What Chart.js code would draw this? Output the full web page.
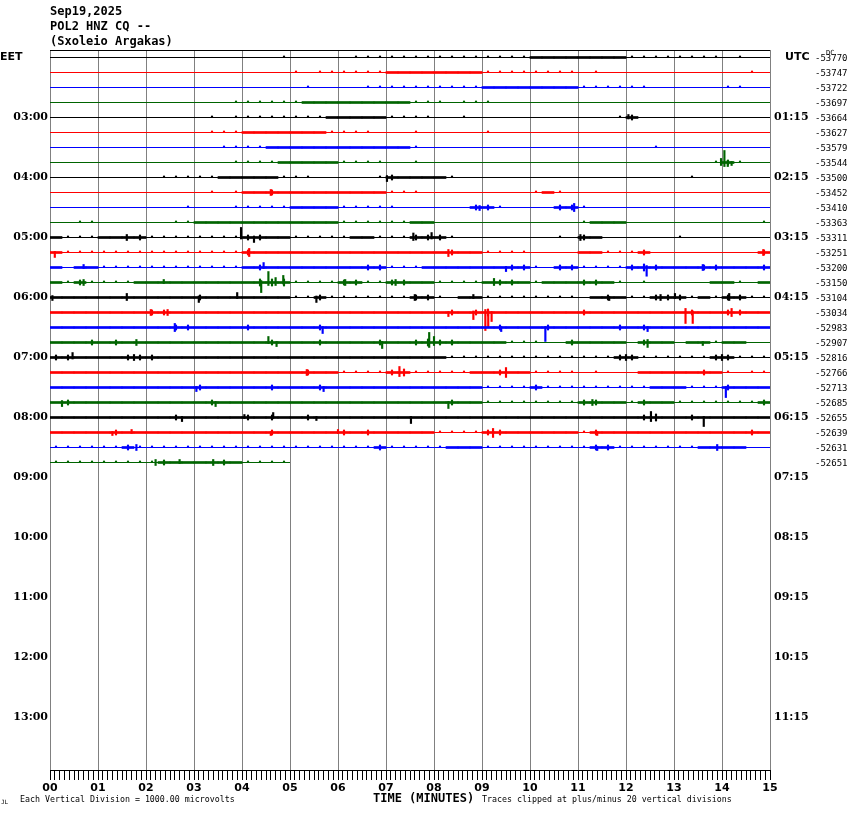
<!DOCTYPE html>
<html>
<head>
<meta charset="utf-8">
<script src="https://cdn.jsdelivr.net/npm/chart.js@4.4.1/dist/chart.umd.min.js"></script>
<style>
  html, body { margin: 0; padding: 0; background: #fff; }
  canvas { display: block; }
</style>
</head>
<body>
<canvas id="chart" width="850" height="814" style="width:850px;height:814px"></canvas>
<script>
// station header
const header = ['Sep19,2025', 'POL2 HNZ CQ --', '(Sxoleio Argakas)'];

// hour labels (left = local EET, right = UTC)
const eetHours = ['03:00', '04:00', '05:00', '06:00', '07:00', '08:00', '09:00', '10:00', '11:00', '12:00', '13:00'];
const utcHours = ['01:15', '02:15', '03:15', '04:15', '05:15', '06:15', '07:15', '08:15', '09:15', '10:15', '11:15'];

// minute tick labels
const minuteLabels = ['00', '01', '02', '03', '04', '05', '06', '07', '08', '09', '10', '11', '12', '13', '14', '15'];

// DC offset printed at the end of each trace
const dcOffsets = [-53770, -53747, -53722, -53697, -53664, -53627, -53579, -53544, -53500, -53452,
  -53410, -53363, -53311, -53251, -53200, -53150, -53104, -53034, -52983, -52907,
  -52816, -52766, -52713, -52685, -52655, -52639, -52631, -52651];

// noise envelope of each 15 min trace, one digit per 15 s (4 per minute)
// 0 = quiet, 1 = scattered small ticks, 2 = continuous noise, 3-4 = bursts
const envelope = [
  '0000 0000 0000 0000 0001 0000 0111 1111 1111 1111 2222 2222 1111 1111 0100',
  '0000 0000 0000 0000 0000 1011 1111 2222 2222 1111 1111 0100 0000 0000 0010',
  '0000 0000 0000 0000 0000 0100 0011 1111 1111 2222 2222 1111 1100 0000 1100',
  '0000 0000 0000 0001 1111 1222 2222 2211 1011 1000 0000 0000 0000 0000 0000',
  '0000 0000 0000 0101 1111 1112 2222 1111 0010 0000 0000 0001 3000 0000 0000',
  '0000 0000 0000 0111 2222 2221 1110 0010 0000 1000 0000 0000 0000 0000 0000',
  '0000 0000 0000 0011 1122 2222 2222 2210 0000 0000 0000 0000 0010 0000 0000',
  '0000 0000 0000 0001 1112 2222 1111 0010 0000 0000 0000 0000 0000 0001 3100',
  '0000 0000 0111 1122 2221 1100 0001 3222 2100 0000 0000 0000 0000 0100 0000',
  '0000 0000 0000 0101 2232 2222 2222 1110 0000 0000 1210 0000 0000 0000 0000',
  '0000 0000 0001 0001 1111 2222 1111 1000 0003 3100 0033 1000 0000 0000 0000',
  '0011 0000 0011 2222 2222 2222 1111 1122 0000 0000 0000 1222 0000 0000 0001',
  '2111 2223 1111 1111 3322 1111 1221 1133 3100 0000 0010 3200 0000 1000 0000',
  '2111 1111 1111 1111 3222 2222 2222 2222 2322 1111 0000 2211 1300 0000 0003',
  '2022 1111 1111 1111 2322 2222 2233 1112 2222 2233 1033 1111 3432 2233 2223',
  '2131 1112 2222 2222 2444 1111 3311 3322 1111 2332 1222 3321 0100 0002 2102',
  '2222 2222 2222 3222 2222 1131 1111 1133 1022 1111 1111 0232 1133 3121 3311',
  '2222 2222 3322 2222 2222 2222 2222 2222 2323 4222 2222 3222 2222 2322 3322',
  '2222 2222 2233 2222 3222 2232 2222 2222 2222 2322 2322 2223 2322 2222 2222',
  '2223 2322 2222 2222 2232 2232 2223 2234 3322 2211 1003 2222 0322 0221 2200',
  '3322 2233 3222 2222 2222 2222 2222 2222 2111 1111 1111 1113 3111 1113 3111',
  '2222 2222 2222 2222 2222 2322 1111 3411 1112 2322 1111 0100 0222 2232 1011',
  '2222 2222 2222 3222 2232 2232 2222 2222 2222 1111 3111 1111 1122 2111 3222',
  '2322 2222 2222 2322 2222 2222 2222 2222 2322 1111 1111 3322 1322 1111 1113',
  '2222 2222 2232 2222 3232 2322 2222 2222 2222 2222 2222 2222 2342 2322 2222',
  '2222 2322 2222 2222 2232 2222 3232 2222 1111 3322 2222 1322 2222 2222 2232',
  '1111 1131 1111 1111 1111 1111 1113 1111 1222 1111 1111 1331 1111 1122 2200',
  '1111 1111 1322 2232 1111'
];

// single large excursions: [trace, minute, up (microvolts), down (microvolts)]
const spikes = [
  [4, 12.05, 200, 100],
  [7, 13.98, 270, 200], [7, 14.05, 800, 270], [7, 14.12, 130, 270], [7, 14.2, 70, 200],
  [8, 7.02, 130, 270],
  [9, 4.6, 200, 200],
  [10, 8.95, 130, 200], [10, 10.92, 270, 270],
  [12, 1.6, 200, 200], [12, 3.98, 670, 100], [12, 4.25, 100, 330], [12, 7.57, 300, 200], [12, 7.95, 330, 100], [12, 11.05, 200, 200],
  [13, 0.1, 70, 330], [13, 4.15, 270, 270], [13, 8.3, 200, 270], [13, 14.86, 200, 200],
  [14, 0.7, 200, 70], [14, 4.45, 330, 70], [14, 9.5, 70, 270], [14, 12.43, 130, 580], [14, 13.6, 200, 200],
  [15, 0.7, 200, 200], [15, 2.37, 200, 70], [15, 4.4, 130, 670], [15, 4.55, 730, 200], [15, 4.7, 330, 200], [15, 4.86, 470, 100], [15, 6.15, 200, 200], [15, 7.2, 200, 200], [15, 9.25, 270, 200],
  [16, 0.05, 130, 200], [16, 1.6, 270, 200], [16, 3.1, 100, 330], [16, 3.9, 330, 70], [16, 5.55, 100, 330], [16, 7.6, 200, 200], [16, 8.82, 200, 70], [16, 11.65, 70, 200], [16, 12.72, 200, 200], [16, 13.02, 270, 70], [16, 14.15, 270, 200],
  [17, 2.1, 200, 200], [17, 2.45, 200, 200], [17, 8.3, 70, 270], [17, 8.82, 100, 470], [17, 9.07, 200, 1200], [17, 9.13, 100, 1000], [17, 9.2, 70, 600], [17, 13.24, 270, 730], [17, 13.39, 100, 730], [17, 14.2, 270, 270],
  [18, 2.6, 270, 270], [18, 5.68, 70, 400], [18, 9.4, 70, 270], [18, 10.32, 70, 930], [18, 12.45, 70, 270],
  [19, 1.8, 200, 200], [19, 4.55, 400, 70], [19, 4.72, 70, 270], [19, 6.92, 70, 400], [19, 7.9, 670, 330], [19, 8.0, 400, 200], [19, 12.45, 200, 330], [19, 13.6, 70, 200],
  [20, 0.47, 330, 100], [20, 1.75, 200, 200], [20, 12.0, 200, 200], [20, 14.0, 200, 200],
  [21, 5.35, 200, 200], [21, 7.28, 400, 270], [21, 9.5, 330, 330],
  [22, 3.05, 70, 270], [22, 5.7, 70, 270], [22, 14.08, 70, 670],
  [23, 0.25, 130, 270], [23, 3.45, 70, 270], [23, 8.3, 70, 400], [23, 11.3, 200, 200],
  [24, 2.75, 70, 270], [24, 4.05, 200, 70], [24, 4.65, 330, 70], [24, 5.55, 70, 200], [24, 7.52, 70, 400], [24, 12.52, 400, 270], [24, 13.62, 70, 600],
  [25, 1.3, 70, 200], [25, 1.7, 200, 70], [25, 4.6, 70, 200], [25, 6.0, 200, 70], [25, 9.23, 270, 330], [25, 11.4, 70, 200],
  [26, 1.8, 200, 200], [26, 11.4, 70, 200], [26, 13.9, 200, 200],
  [27, 2.2, 200, 200], [27, 2.7, 200, 70], [27, 3.4, 200, 200]
];

const colors = ['#000000', '#ff0000', '#0000ff', '#006400'];
const BIN = 0.25;          // minutes per envelope digit
const UV_PER_TRACE = 1000; // trace spacing in microvolts
const LEVEL_UV = 67;       // microvolts per envelope level

const uv = v => v / UV_PER_TRACE;

let datasets = [];
envelope.forEach((str, row) => {
  let levels = str.replace(/ /g, '').split('').map(Number);
  let color = colors[row % 4];
  let end = levels.length * BIN;
  let band = [], ticks = [];
  levels.forEach((lv, i) => {
    let x = (i + 0.5) * BIN;
    if (lv >= 2) band.push({ x: x, y: [row - uv(LEVEL_UV), row + uv(LEVEL_UV)] });
    if (lv === 1) ticks.push({ x: x, y: [row - uv(1.5 * LEVEL_UV), row] });
    if (lv >= 3) ticks.push({ x: x, y: [row - uv((lv - 0.5) * LEVEL_UV), row + uv((lv - 0.5) * LEVEL_UV)] });
  });
  datasets.push({
    type: 'line',
    data: [{ x: 0, y: row }, { x: end, y: row }],
    borderColor: color,
    borderWidth: 1,
    pointRadius: 0
  });
  datasets.push({
    type: 'bar', grouped: false, data: band,
    backgroundColor: color, borderWidth: 0, barThickness: 12
  });
  datasets.push({
    type: 'bar', grouped: false, data: ticks,
    backgroundColor: color, borderWidth: 0, barThickness: 1.5
  });
});
datasets.push({
  type: 'bar', grouped: false,
  data: spikes.map(s => ({ x: s[1], y: [s[0] - uv(s[2]), s[0] + uv(s[3])] })),
  backgroundColor: spikes.map(s => colors[s[0] % 4]),
  borderWidth: 0, barThickness: 1.5
});

const isMajor = v => Math.abs(v - Math.round(v)) < 1e-6;

const heliText = {
  id: 'heliText',
  afterDraw(chart) {
    const { ctx, chartArea: a, scales } = chart;
    const y = scales.y;
    ctx.save();
    // top frame line
    ctx.strokeStyle = '#000';
    ctx.lineWidth = 1;
    ctx.beginPath();
    ctx.moveTo(a.left, a.top + 0.5);
    ctx.lineTo(a.right, a.top + 0.5);
    ctx.stroke();

    ctx.fillStyle = '#000';
    ctx.textBaseline = 'middle';
    ctx.textAlign = 'left';
    ctx.font = 'bold 12px "DejaVu Sans Mono"';
    header.forEach((t, i) => ctx.fillText(t, a.left, 12 + 15 * i));

    let top = y.getPixelForValue(0);
    ctx.font = 'bold 11px "DejaVu Sans"';
    ctx.fillText('EET', 0, top);
    ctx.fillText('UTC', 785, top);

    ctx.font = 'bold 11px "DejaVu Serif"';
    eetHours.forEach((t, i) => {
      let py = y.getPixelForValue(4 * (i + 1));
      ctx.textAlign = 'right';
      ctx.fillText(t, a.left - 2, py);
      ctx.textAlign = 'left';
      ctx.fillText(utcHours[i], a.right + 4, py);
    });

    ctx.textAlign = 'left';
    ctx.font = '9px "DejaVu Sans Mono"';
    dcOffsets.forEach((v, i) => ctx.fillText(String(v), 815, y.getPixelForValue(i) + 1));
    ctx.font = '7px "DejaVu Sans Mono"';
    ctx.fillText('DC', 826, 53);

    ctx.font = '8.3px "DejaVu Sans Mono"';
    ctx.fillText('Each Vertical Division = 1000.00 microvolts', 20, 800);
    ctx.fillText('Traces clipped at plus/minus 20 vertical divisions', 482, 800);
    ctx.font = '6px "DejaVu Sans Mono"';
    ctx.fillText('JL', 1, 802);
    ctx.font = 'bold 12px "DejaVu Sans Mono"';
    ctx.fillText('TIME (MINUTES)', 373, 799);
    ctx.restore();
  }
};

new Chart(document.getElementById('chart'), {
  type: 'bar',
  data: { datasets: datasets },
  options: {
    responsive: false,
    animation: false,
    events: [],
    layout: { padding: { left: 50, right: 80, top: 50, bottom: 0 } },
    plugins: { legend: { display: false }, tooltip: { enabled: false } },
    scales: {
      x: {
        type: 'linear',
        min: 0,
        max: 15,
        offset: false,
        afterBuildTicks: s => {
          s.ticks = [];
          for (let i = 0; i <= 150; i++) s.ticks.push({ value: i / 10 });
        },
        afterFit: s => { s.height = 44; },
        ticks: {
          autoSkip: false,
          maxRotation: 0,
          padding: 2,
          color: '#000',
          font: { family: 'DejaVu Sans', size: 11, weight: 'bold' },
          callback: v => isMajor(v) ? minuteLabels[Math.round(v)] : ''
        },
        grid: {
          offset: false,
          lineWidth: 1,
          tickLength: 10,
          tickColor: '#000',
          color: c => (c.tick && isMajor(c.tick.value)) ? '#808080' : 'rgba(0,0,0,0)'
        },
        border: { color: '#000', width: 1 }
      },
      y: {
        type: 'linear',
        reverse: true,
        min: -0.5,
        max: 47.5,
        display: false
      }
    }
  },
  plugins: [heliText]
});
</script>
</body>
</html>
